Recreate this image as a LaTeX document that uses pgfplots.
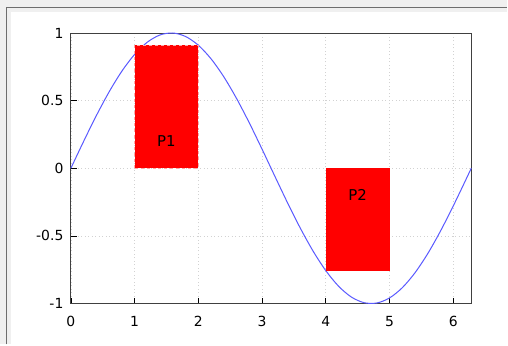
\documentclass[border=0pt]{standalone}
\usepackage{fontspec}
\setmainfont{DejaVu Sans}
\usepackage{pgfplots}
\pgfplotsset{compat=1.18}
\definecolor{winbg}{HTML}{F0F0F0}
\definecolor{winedge}{HTML}{6E6E6E}
\definecolor{curve}{HTML}{5A5AFF}
\begin{document}
\begin{tikzpicture}[x=1bp,y=1bp]
% window background and frame
\fill[winbg] (0,0) rectangle (508,345);
\fill[white] (11,0) rectangle (508,333);
\draw[winedge,line width=1.6bp] (6.5,0) -- (6.5,337.5) -- (508,337.5);
\begin{axis}[
  at={(71bp,41bp)},anchor=south west,
  scale only axis,width=401bp,height=271bp,
  xmin=0,xmax=6.2832,ymin=-1,ymax=1,
  xtick={0,1,2,3,4,5,6},ytick={-1,-0.5,0,0.5,1},
  yticklabels={-1,-0.5,0,0.5,1},
  xtick pos=bottom,ytick pos=left,tick align=inside,
  major tick length=6bp,
  tick style={black,line width=0.6bp},
  axis line style={black!75,line width=0.8bp},
  grid=major,grid style={gray!35,dash pattern=on 1bp off 2.5bp,line width=0.7bp},
  tick label style={font=\fontsize{14}{16}\selectfont},
  /pgf/number format/assume math mode=true,
  xticklabel style={yshift=-9bp},
  yticklabel style={xshift=-4bp},
  clip=false,
]
\addplot[curve,line width=1bp,smooth] coordinates {
 (0,0) (0.2,0.1987) (0.4,0.3894) (0.6,0.5646) (0.8,0.7174) (1.0,0.8415)
 (1.2,0.9320) (1.4,0.9854) (1.6,0.9996) (1.8,0.9738) (2.0,0.9093)
 (2.2,0.8085) (2.4,0.6755) (2.6,0.5155) (2.8,0.3350) (3.0,0.1411)
 (3.2,-0.0584) (3.4,-0.2555) (3.6,-0.4425) (3.8,-0.6119) (4.0,-0.7568)
 (4.2,-0.8716) (4.4,-0.9516) (4.6,-0.9937) (4.8,-0.9962) (5.0,-0.9589)
 (5.2,-0.8835) (5.4,-0.7728) (5.6,-0.6313) (5.8,-0.4646) (6.0,-0.2794)
 (6.2,-0.0831) (6.2832,0)};
\addplot[fill=red,draw=red!35!white,dashed,line width=0.6bp] coordinates {(1,0) (2,0) (2,0.9093) (1,0.9093)} -- cycle;
\addplot[fill=red,draw=red,line width=0.4bp] coordinates {(4,0) (5,0) (5,-0.7568) (4,-0.7568)} -- cycle;
\node[font=\fontsize{15}{17}\selectfont] at (axis cs:1.5,0.2) {P1};
\node[font=\fontsize{15}{17}\selectfont] at (axis cs:4.5,-0.2) {P2};
\end{axis}
\end{tikzpicture}
\end{document}
